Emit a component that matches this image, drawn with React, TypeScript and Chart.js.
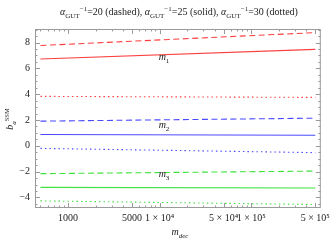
import React, { useEffect, useRef } from "react";
import { Chart, registerables } from "chart.js";

Chart.register(...registerables);

const mDec = [500, 500000];
const redDashed = [7.77, 8.77];
const redSolid = [6.73, 7.47];
const redDotted = [3.83, 3.75];
const blueDashed = [1.91, 2.14];
const blueSolid = [0.87, 0.82];
const blueDotted = [-0.2, -0.53];
const greenDashed = [-2.16, -1.96];
const greenSolid = [-3.22, -3.27];
const greenDotted = [-4.27, -4.55];

const xTickValues = [1000, 5000, 10000, 50000, 100000, 500000];
const xTickLabels = ["1000", "5000", "1 \u00d7 10\u2074", "5 \u00d7 10\u2074", "1 \u00d7 10\u2075", "5 \u00d7 10\u2075"];
const yTickValues = [-4, -2, 0, 2, 4, 6, 8];
const yTickLabels = ["\u22124", "\u22122", "0", "2", "4", "6", "8"];

const curveLabels = [
  { sub: "1", x: 9750, y: 6.63 },
  { sub: "2", x: 9750, y: 1.36 },
  { sub: "3", x: 9750, y: -2.44 },
];

const RED = "#ff3f3f";
const BLUE = "#4a4aff";
const GREEN = "#3fe23f";
const SERIF = "'Liberation Serif', 'Times New Roman', serif";

const pts = (ys: number[]) => mDec.map((x, i) => ({ x, y: ys[i] }));

function drawRich(ctx: CanvasRenderingContext2D, parts: { t: string; s: number; dy: number; it?: boolean }[], x: number, y: number, align: "left" | "center") {
  let total = 0;
  for (const p of parts) {
    ctx.font = `${p.it ? "italic " : ""}${p.s}px ${SERIF}`;
    total += ctx.measureText(p.t).width;
  }
  let cx = align === "center" ? x - total / 2 : x;
  ctx.textBaseline = "alphabetic";
  ctx.textAlign = "left";
  for (const p of parts) {
    ctx.font = `${p.it ? "italic " : ""}${p.s}px ${SERIF}`;
    ctx.fillText(p.t, cx, y + p.dy);
    cx += ctx.measureText(p.t).width;
  }
}

const framePlugin = {
  id: "framePlugin",
  afterDraw(chart: any) {
    const ctx: CanvasRenderingContext2D = chart.ctx;
    const { left, right, top, bottom } = chart.chartArea;
    const xs = chart.scales.x;
    const ys = chart.scales.y;
    ctx.save();
    ctx.strokeStyle = "#9a9a9a";
    ctx.lineWidth = 1;
    ctx.strokeRect(left + 0.5, top + 0.5, right - left - 1, bottom - top - 1);
    const tick = (x1: number, y1: number, x2: number, y2: number) => {
      ctx.beginPath();
      ctx.moveTo(x1, y1);
      ctx.lineTo(x2, y2);
      ctx.stroke();
    };
    for (let k = 2; k <= 5; k++) {
      for (let m = 1; m <= 9; m++) {
        const v = m * Math.pow(10, k);
        if (v < xs.min || v > xs.max) continue;
        const major = xTickValues.includes(v);
        const len = major ? 5 : 2.5;
        const px = Math.round(xs.getPixelForValue(v)) + 0.5;
        tick(px, bottom, px, bottom - len);
        tick(px, top, px, top + len);
      }
    }
    for (let v = -4.5; v <= 9.01; v += 0.5) {
      if (v < ys.min || v > ys.max) continue;
      const major = yTickValues.includes(v);
      const len = major ? 5 : 2.5;
      const py = Math.round(ys.getPixelForValue(v)) + 0.5;
      tick(left, py, left + len, py);
      tick(right, py, right - len, py);
    }
    ctx.fillStyle = "#222";
    const a = (n: string, tail: string) => [
      { t: "\u03b1", s: 10, dy: 0, it: true },
      { t: "GUT", s: 7, dy: 2.5 },
      { t: "\u22121", s: 7, dy: -4 },
      { t: "=" + n + tail, s: 10, dy: 0 },
    ];
    drawRich(ctx, [...a("20", " (dashed), "), ...a("25", " (solid), "), ...a("30", " (dotted)")], 179, 15, "center");
    drawRich(ctx, [
      { t: "m", s: 10, dy: 0, it: true },
      { t: "dec", s: 7, dy: 2.5, it: true },
    ], 180, 235, "center");
    ctx.save();
    ctx.translate(13, 119);
    ctx.rotate(-Math.PI / 2);
    drawRich(ctx, [
      { t: "b", s: 10, dy: 0, it: true },
      { t: "a", s: 7, dy: 2.5, it: true },
      { t: "SSM", s: 6.5, dy: -4 },
    ], 0, 0, "center");
    ctx.restore();
    for (const l of curveLabels) {
      const px = xs.getPixelForValue(l.x);
      const py = ys.getPixelForValue(l.y);
      drawRich(ctx, [
        { t: "m", s: 10, dy: 0, it: true },
        { t: l.sub, s: 7, dy: 2.5 },
      ], px, py, "left");
    }
    ctx.restore();
  },
};

export default function App() {
  const ref = useRef<HTMLCanvasElement>(null);
  useEffect(() => {
    const ds = (label: string, ys: number[], color: string, dash: number[]) => ({
      label,
      data: pts(ys),
      borderColor: color,
      backgroundColor: color,
      borderWidth: 1.1,
      borderDash: dash,
      pointRadius: 0,
      fill: false,
      tension: 0,
    });
    const DASH = [6, 3.5];
    const DOT = [1.5, 3];
    const chart = new Chart(ref.current!, {
      type: "line",
      data: {
        datasets: [
          ds("red dashed", redDashed, RED, DASH),
          ds("red solid", redSolid, RED, []),
          ds("red dotted", redDotted, RED, DOT),
          ds("blue dashed", blueDashed, BLUE, DASH),
          ds("blue solid", blueSolid, BLUE, []),
          ds("blue dotted", blueDotted, BLUE, DOT),
          ds("green dashed", greenDashed, GREEN, DASH),
          ds("green solid", greenSolid, GREEN, []),
          ds("green dotted", greenDotted, GREEN, DOT),
        ],
      },
      options: {
        animation: false,
        responsive: false,
        layout: { padding: { left: 0, top: 29, right: 8, bottom: 0 } },
        plugins: { legend: { display: false }, tooltip: { enabled: false }, title: { display: false } },
        scales: {
          x: {
            type: "logarithmic",
            min: 436,
            max: 574000,
            grid: { display: false, drawTicks: false },
            border: { display: false },
            afterBuildTicks: (s: any) => {
              s.ticks = xTickValues.map((v) => ({ value: v }));
            },
            afterFit: (s: any) => {
              s.height = 33;
            },
            ticks: {
              autoSkip: false,
              maxRotation: 0,
              padding: 4,
              color: "#222",
              font: { family: SERIF, size: 10 },
              callback: (v: any) => {
                const i = xTickValues.indexOf(Number(v));
                return i >= 0 ? xTickLabels[i] : "";
              },
            },
          },
          y: {
            type: "linear",
            min: -4.82,
            max: 9.05,
            grid: { display: false, drawTicks: false },
            border: { display: false },
            afterBuildTicks: (s: any) => {
              s.ticks = yTickValues.map((v) => ({ value: v }));
            },
            afterFit: (s: any) => {
              s.width = 35;
            },
            ticks: {
              autoSkip: false,
              padding: 5,
              color: "#222",
              font: { family: SERIF, size: 10 },
              callback: (v: any) => {
                const i = yTickValues.indexOf(Number(v));
                return i >= 0 ? yTickLabels[i] : "";
              },
            },
          },
        },
      },
      plugins: [framePlugin],
    } as any);
    return () => chart.destroy();
  }, []);
  return (
    <div style={{ position: "absolute", left: 0, top: 0, width: 334, height: 241, background: "#fff" }}>
      <canvas ref={ref} width={334} height={241} style={{ width: 334, height: 241, display: "block" }} />
    </div>
  );
}
